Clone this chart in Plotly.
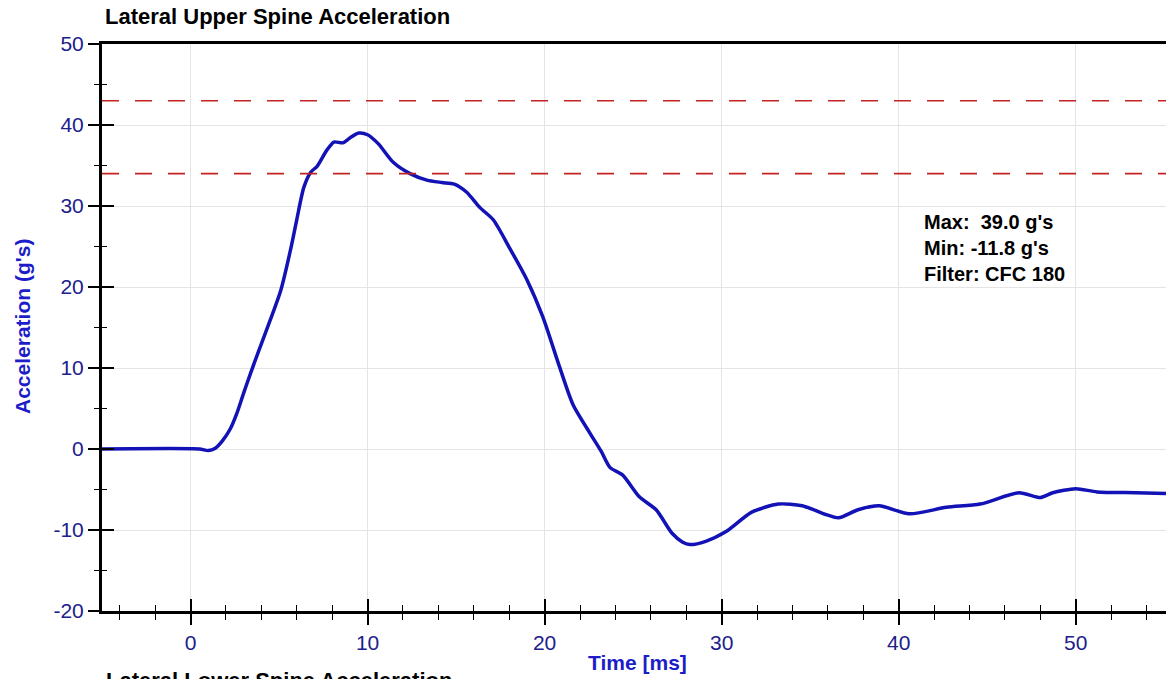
import plotly.graph_objects as go

# ---- data ----
time_ms = [-5, 0.5, 1.0, 1.4, 1.8, 2.25, 2.6, 3.0, 3.4, 3.8, 4.5, 5.1, 5.65, 6.0, 6.4, 6.8, 7.15,
           7.7, 8.1, 8.6, 9.0, 9.5, 10.0, 10.6, 11.45, 12.4, 13.35, 14.2, 14.9, 15.6, 16.35, 17.1,
           18.0, 19.0, 19.9, 20.85, 21.6, 22.55, 23.2, 23.7, 24.4, 25.35, 26.3, 27.2, 27.8, 28.2,
           29.1, 30.25, 31.7, 33.2, 34.55, 35.9, 36.6, 37.7, 38.9, 40.6, 42.7, 44.6, 46.8, 48.0,
           48.7, 50.0, 51.2, 53.4, 55.1]
accel_g = [0, 0, -0.2, 0.1, 1.0, 2.5, 4.3, 6.9, 9.4, 11.8, 15.9, 19.6, 24.6, 28.3, 32.3, 34.2, 34.9,
           36.9, 37.9, 37.8, 38.4, 39.0, 38.8, 37.7, 35.4, 34.0, 33.2, 32.9, 32.7, 31.7, 29.8, 28.3,
           24.9, 20.9, 16.3, 10.1, 5.5, 2.0, -0.3, -2.3, -3.2, -5.9, -7.5, -10.4, -11.5, -11.8,
           -11.4, -10.2, -7.8, -6.8, -7.0, -8.1, -8.5, -7.5, -7.0, -8.0, -7.2, -6.8, -5.4, -6.0,
           -5.4, -4.9, -5.3, -5.4, -5.5]
threshold_levels = [43.0, 34.0]
x_range = [-5, 55.1]
y_range = [-20, 50]
x_tickvals = [0, 10, 20, 30, 40, 50]
x_ticktext = ["0", "10", "20", "30", "40", "50"]
y_tickvals = [-20, -10, 0, 10, 20, 30, 40, 50]
y_ticktext = ["-20", "-10", "0", "10", "20", "30", "40", "50"]
stats_labels = ["Max:&nbsp; ", "Min: ", "Filter: "]
stats_values = ["39.0 g's", "-11.8 g's", "CFC 180"]
title_top = "Lateral Upper Spine Acceleration"
title_bottom = "Lateral Lower Spine Acceleration"
x_title = "Time [ms]"
y_title = "Acceleration (g's)"

FONT = "Liberation Sans, Arial, sans-serif"
TICK_BLUE = "rgb(32,32,140)"
TITLE_BLUE = "rgb(28,28,200)"
CURVE_BLUE = "rgb(18,18,182)"
DASH_RED = "rgb(195,35,35)"

W, H = 1166, 679
ML, MR, MT, MB = 102, 0, 44, 68
PW, PH = W - ML - MR, H - MT - MB


def px_x(px):
    return (px - ML) / PW


def px_y(py):
    return (H - MB - py) / PH


fig = go.Figure()

for lvl in threshold_levels:
    fig.add_trace(go.Scatter(
        x=x_range, y=[lvl, lvl], mode="lines", xaxis="x2", yaxis="y2",
        line=dict(color=DASH_RED, width=1.6, dash="17px,16px"),
        hoverinfo="skip", showlegend=False))

fig.add_trace(go.Scatter(
    x=time_ms, y=accel_g, mode="lines",
    line=dict(color=CURVE_BLUE, width=3.5, shape="spline", smoothing=0.7),
    showlegend=False))

common_x = dict(range=x_range, tick0=0, dtick=10, zeroline=False, fixedrange=True)
common_y = dict(range=y_range, tick0=0, dtick=10, zeroline=False, fixedrange=True)

fig.update_layout(
    width=W, height=H,
    margin=dict(l=ML, r=MR, t=MT, b=MB, autoexpand=False),
    paper_bgcolor="white", plot_bgcolor="white",
    font=dict(family=FONT),
    xaxis=dict(**common_x, tickmode="array", tickvals=x_tickvals, ticktext=x_ticktext,
               showgrid=True, gridcolor="#e4e4e4", gridwidth=1,
               showline=True, linecolor="black", linewidth=3, mirror=True,
               ticks="outside", ticklen=11, tickwidth=1.5, tickcolor="black",
               minor=dict(dtick=2, tick0=0, ticks="outside", ticklen=6, tickwidth=1.2,
                          tickcolor="black", showgrid=False),
               tickfont=dict(family=FONT, size=21, color=TICK_BLUE)),
    yaxis=dict(**common_y, tickmode="array", tickvals=y_tickvals, ticktext=y_ticktext,
               showgrid=True, gridcolor="#e4e4e4", gridwidth=1,
               showline=True, linecolor="black", linewidth=3,
               ticks="outside", ticklen=11, tickwidth=1.5, tickcolor="black",
               minor=dict(dtick=5, tick0=0, ticks="outside", ticklen=5, tickwidth=1.2,
                          tickcolor="black", showgrid=False),
               tickfont=dict(family=FONT, size=21, color=TICK_BLUE)),
    xaxis2=dict(**common_x, overlaying="x", anchor="y2", side="bottom",
                showgrid=False, showline=False, showticklabels=False,
                ticks="inside", ticklen=12, tickwidth=1.5, tickcolor="black",
                minor=dict(dtick=2, tick0=0, ticks="inside", ticklen=6, tickwidth=1.2,
                           tickcolor="black", showgrid=False)),
    yaxis2=dict(**common_y, overlaying="y", anchor="x2", side="left",
                showgrid=False, showline=False, showticklabels=False,
                ticks="inside", ticklen=12, tickwidth=1.5, tickcolor="black",
                minor=dict(dtick=5, tick0=0, ticks="inside", ticklen=5, tickwidth=1.2,
                           tickcolor="black", showgrid=False)),
)

stats_text = "<br>".join(f"{a}{b}" for a, b in zip(stats_labels, stats_values))

annotations = [
    dict(text=f"<b>{title_top}</b>", x=px_x(103), y=px_y(17), xanchor="left", yanchor="middle",
         font=dict(family=FONT, size=22, color="black")),
    dict(text=f"<b>{title_bottom}</b>", x=px_x(104), y=px_y(666), xanchor="left", yanchor="top",
         font=dict(family=FONT, size=22, color="black")),
    dict(text=f"<b>{x_title}</b>", x=px_x(637), y=px_y(662), xanchor="center", yanchor="middle",
         font=dict(family=FONT, size=21, color=TITLE_BLUE)),
    dict(text=f"<b>{y_title}</b>", x=px_x(22), y=px_y(327), xanchor="center", yanchor="middle",
         textangle=-90, font=dict(family=FONT, size=21, color=TITLE_BLUE)),
    dict(text=f"<b>{stats_text}</b>", x=px_x(922), y=px_y(209), xanchor="left", yanchor="top",
         align="left", font=dict(family=FONT, size=20, color="black")),
]
for a in annotations:
    a.update(xref="paper", yref="paper", showarrow=False)
fig.update_layout(annotations=annotations)

fig.write_html(
    "out.html",
    config={"displayModeBar": False},
    post_script="document.body.style.margin='0';document.body.style.overflow='hidden';",
)
